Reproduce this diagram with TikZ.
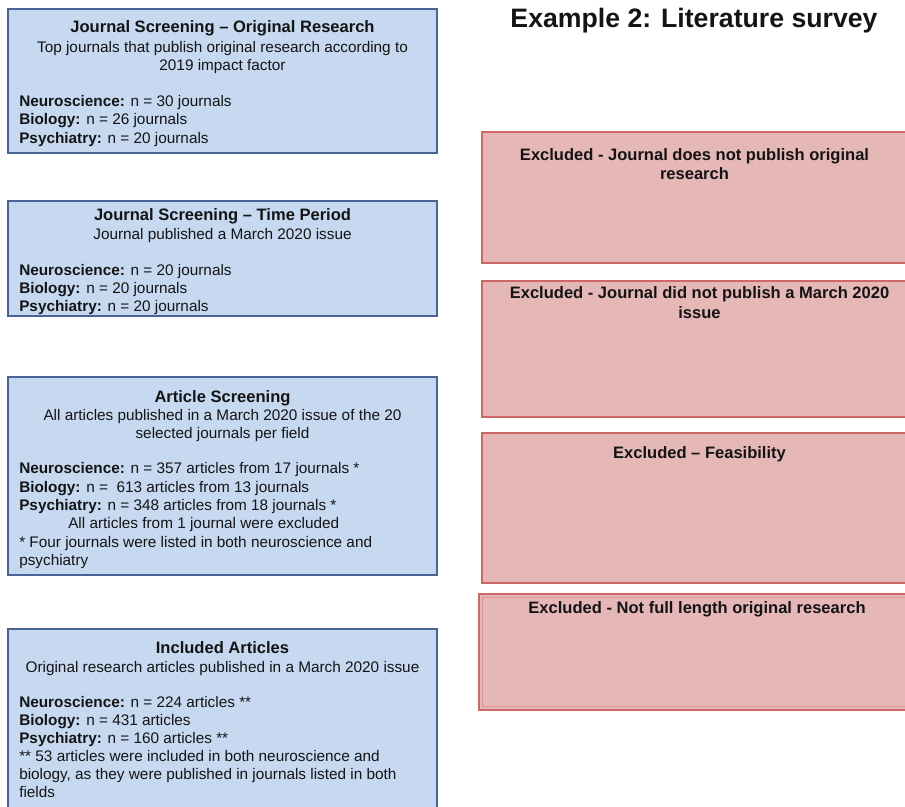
\documentclass[tikz,border=0pt]{standalone}
\usepackage{fontspec}
\setmainfont{Liberation Sans}
\usetikzlibrary{fit}
\definecolor{bluefill}{RGB}{198,217,240}
\definecolor{blueline}{RGB}{72,100,148}
\definecolor{redfill}{RGB}{229,183,183}
\definecolor{redline}{RGB}{206,104,104}
\definecolor{ink}{RGB}{20,20,20}
\begin{document}
\begin{tikzpicture}[x=0.75pt,y=-0.75pt,
  bluebox/.style={draw=blueline, fill=bluefill, line width=1.1pt, inner sep=0pt},
  redbox/.style={draw=redline, fill=redfill, line width=1.1pt, inner sep=0pt},
  lineL/.style={anchor=base west, inner sep=0pt, text=ink, font=\fontsize{11.5}{13.5}\selectfont},
  lineC/.style={anchor=base, inner sep=0pt, text=ink, font=\fontsize{11.5}{13.5}\selectfont},
  headC/.style={anchor=base, inner sep=0pt, text=ink, font=\fontsize{12.4}{14}\selectfont\bfseries},
]
\useasboundingbox (0,0) rectangle (905,806);
\clip (0,0) rectangle (905,806);

% page title
\node[anchor=base, inner sep=0pt, text=ink, font=\fontsize{20}{24}\selectfont\bfseries] (title) at (694,28) {Example 2: Literature survey};

% screening stages (left column)
\node[bluebox, fit={(8,9) (437,153)}] (s1) {};
\node[headC] (s1h) at (222.5,33) {Journal Screening – Original Research};
\node[lineC] (s1a) at (222.5,53) {Top journals that publish original research according to};
\node[lineC] (s1b) at (222.5,71) {2019 impact factor};
\node[lineL] (s1n) at (19,107) {\textbf{Neuroscience:} n = 30 journals};
\node[lineL] (s1bi) at (19,125) {\textbf{Biology:} n = 26 journals};
\node[lineL] (s1p) at (19,143) {\textbf{Psychiatry:} n = 20 journals};

\node[bluebox, fit={(8,201) (437,316)}] (s2) {};
\node[headC] (s2h) at (222.5,220) {Journal Screening – Time Period};
\node[lineC] (s2a) at (222.5,239) {Journal published a March 2020 issue};
\node[lineL] (s2n) at (19,275) {\textbf{Neuroscience:} n = 20 journals};
\node[lineL] (s2bi) at (19,293) {\textbf{Biology:} n = 20 journals};
\node[lineL] (s2p) at (19,311) {\textbf{Psychiatry:} n = 20 journals};

\node[bluebox, fit={(8,377) (437,575)}] (s3) {};
\node[headC] (s3h) at (222.5,402) {Article Screening};
\node[lineC] (s3a) at (222.5,420) {All articles published in a March 2020 issue of the 20};
\node[lineC] (s3b) at (222.5,438) {selected journals per field};
\node[lineL] (s3n) at (19,473) {\textbf{Neuroscience:} n = 357 articles from 17 journals *};
\node[lineL] (s3bi) at (19,492) {\textbf{Biology:} n = \ 613 articles from 13 journals};
\node[lineL] (s3p) at (19,510) {\textbf{Psychiatry:} n = 348 articles from 18 journals *};
\node[lineL] (s3x) at (68,528) {All articles from 1 journal were excluded};
\node[lineL] (s3f) at (19,547) {* Four journals were listed in both neuroscience and};
\node[lineL] (s3g) at (19,565) {psychiatry};

\node[bluebox, fit={(8,629) (437,815)}] (s4) {};
\node[headC] (s4h) at (222.5,653) {Included Articles};
\node[lineC] (s4a) at (222.5,672) {Original research articles published in a March 2020 issue};
\node[lineL] (s4n) at (19,707) {\textbf{Neuroscience:} n = 224 articles **};
\node[lineL] (s4bi) at (19,725) {\textbf{Biology:} n = 431 articles};
\node[lineL] (s4p) at (19,743) {\textbf{Psychiatry:} n = 160 articles **};
\node[lineL] (s4f) at (19,761) {** 53 articles were included in both neuroscience and};
\node[lineL] (s4g) at (19,779) {biology, as they were published in journals listed in both};
\node[lineL] (s4k) at (19,797) {fields};

% exclusion boxes (right column)
\node[redbox, fit={(482,132) (915,263)}] (e1) {};
\node[headC] (e1a) at (694.5,160) {Excluded - Journal does not publish original};
\node[headC] (e1b) at (694.5,179) {research};

\node[redbox, fit={(482,281) (915,417)}] (e2) {};
\node[headC] (e2a) at (699.5,298) {Excluded - Journal did not publish a March 2020};
\node[headC] (e2b) at (699.5,318) {issue};

\node[redbox, fit={(482,433) (915,583)}] (e3) {};
\node[headC] (e3a) at (699.5,458) {Excluded – Feasibility};

\node[redbox, fit={(479,594) (915,710)}] (e4) {};
% faint inner frame of the last exclusion box
\draw[redline!40!redfill, line width=0.6pt] ([shift={(4,4)}]e4.north west) rectangle ([shift={(-4,-4)}]e4.south east);
\node[headC] (e4a) at (697,613) {Excluded - Not full length original research};
\end{tikzpicture}
\end{document}
